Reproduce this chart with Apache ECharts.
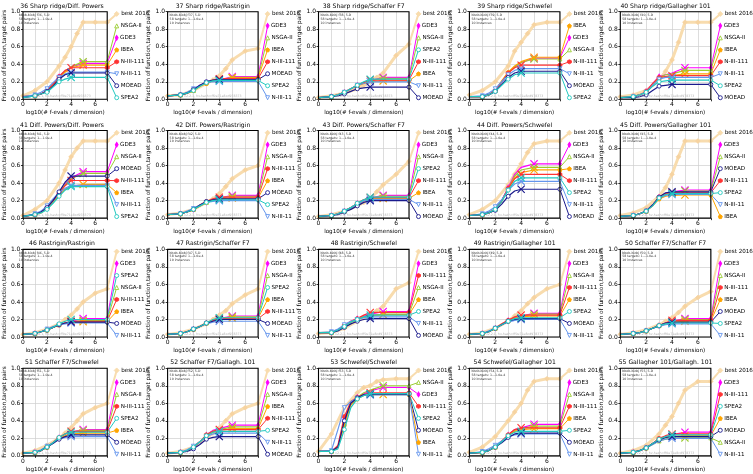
<!DOCTYPE html>
<html><head><meta charset="utf-8">
<script src="https://cdn.jsdelivr.net/npm/echarts@6/dist/echarts.min.js"></script>
<style>html,body{margin:0;padding:0;background:#fff}#c{width:753px;height:474px}</style>
</head><body><div id="c"></div>
<script>
// ---------- data ----------
const FUNC_IDS = [36,37,38,39,40,41,42,43,44,45,46,47,48,49,50,51,52,53,54,55];
const TITLES = [
 '36 Sharp ridge/Diff. Powers','37 Sharp ridge/Rastrigin','38 Sharp ridge/Schaffer F7','39 Sharp ridge/Schwefel','40 Sharp ridge/Gallagher 101',
 '41 Diff. Powers/Diff. Powers','42 Diff. Powers/Rastrigin','43 Diff. Powers/Schaffer F7','44 Diff. Powers/Schwefel','45 Diff. Powers/Gallagher 101',
 '46 Rastrigin/Rastrigin','47 Rastrigin/Schaffer F7','48 Rastrigin/Schwefel','49 Rastrigin/Gallagher 101','50 Schaffer F7/Schaffer F7',
 '51 Schaffer F7/Schwefel','52 Schaffer F7/Gallagh. 101','53 Schwefel/Schwefel','54 Schwefel/Gallagher 101','55 Gallagher 101/Gallagh. 101'];
const X_TICKS = [0, 2, 4, 6];
const Y_TICKS = [0, 0.2, 0.4, 0.6, 0.8, 1.0];
const X_ALG = [0, 1, 1.5, 2, 2.5, 3, 3.5, 4, 5];
const X_BEST = [0, 1, 2, 3, 3.5, 4, 4.5, 5, 6, 7];
const ALGS = ['GDE3', 'NSGA-II', 'IBEA', 'N-III-111', 'N-III-11', 'MOEAD', 'SPEA2'];
const BUDGET_LOG10 = [5, 5, 5, 4, 4, 4, 4];
const BEST_2016 = [
 [0.04,0.10,0.20,0.38,0.48,0.60,0.75,0.88,0.88,0.88],
 [0.04,0.05,0.10,0.18,0.22,0.27,0.35,0.45,0.55,0.58],
 [0.02,0.04,0.07,0.12,0.16,0.20,0.25,0.30,0.50,0.63],
 [0.05,0.10,0.20,0.38,0.55,0.65,0.75,0.85,0.88,0.88],
 [0.03,0.05,0.10,0.22,0.32,0.45,0.65,0.88,0.88,0.88],
 [0.03,0.10,0.20,0.40,0.55,0.70,0.80,0.88,0.88,0.88],
 [0.04,0.06,0.10,0.18,0.22,0.28,0.36,0.45,0.55,0.60],
 [0.02,0.04,0.08,0.14,0.18,0.22,0.30,0.38,0.50,0.65],
 [0.04,0.10,0.20,0.38,0.50,0.62,0.75,0.85,0.88,0.88],
 [0.03,0.06,0.12,0.25,0.35,0.50,0.70,0.88,0.88,0.88],
 [0.03,0.05,0.09,0.15,0.20,0.25,0.32,0.40,0.50,0.55],
 [0.03,0.05,0.09,0.15,0.20,0.25,0.30,0.38,0.48,0.55],
 [0.04,0.05,0.10,0.18,0.22,0.25,0.30,0.35,0.55,0.62],
 [0.03,0.05,0.10,0.18,0.24,0.30,0.38,0.45,0.55,0.60],
 [0.03,0.05,0.08,0.14,0.18,0.22,0.28,0.35,0.45,0.52],
 [0.03,0.06,0.12,0.20,0.26,0.32,0.40,0.48,0.55,0.60],
 [0.03,0.05,0.10,0.20,0.26,0.32,0.40,0.48,0.55,0.60],
 [0.05,0.25,0.55,0.72,0.78,0.80,0.85,0.87,0.88,0.88],
 [0.04,0.10,0.22,0.40,0.50,0.60,0.75,0.85,0.88,0.88],
 [0.03,0.06,0.12,0.25,0.35,0.45,0.60,0.75,0.85,0.85]];
// rows: GDE3, NSGA-II, IBEA, N-III-111, N-III-11, MOEAD, SPEA2 (values at X_ALG)
const F36 = [[.03,.04,.06,.10,.18,.26,.32,.37,.41],[.03,.04,.06,.10,.17,.25,.32,.37,.43],[.03,.04,.06,.09,.16,.24,.31,.36,.39],[.03,.04,.06,.10,.17,.26,.33,.36,.36],[.03,.05,.08,.12,.19,.25,.29,.31,.31],[.02,.04,.06,.09,.15,.23,.28,.30,.30],[.02,.04,.06,.08,.14,.20,.23,.25,.25]];
const F37 = [[.04,.05,.07,.11,.16,.19,.21,.22,.26],[.04,.05,.07,.10,.15,.19,.21,.22,.25],[.04,.05,.07,.10,.15,.18,.21,.22,.245],[.04,.05,.07,.11,.16,.19,.22,.235,.235],[.04,.05,.08,.12,.16,.19,.20,.205,.205],[.04,.05,.07,.11,.16,.20,.22,.225,.225],[.04,.05,.07,.10,.15,.19,.21,.215,.215]];
const F38 = [[.02,.03,.05,.08,.12,.16,.19,.21,.25],[.02,.03,.05,.08,.12,.16,.19,.21,.24],[.02,.03,.05,.08,.12,.15,.18,.20,.21],[.02,.03,.05,.08,.12,.16,.19,.22,.22],[.02,.03,.05,.08,.12,.16,.18,.20,.20],[.02,.03,.04,.06,.09,.12,.13,.14,.14],[.02,.03,.05,.08,.12,.16,.20,.23,.23]];
const F39 = [[.03,.03,.05,.10,.20,.30,.37,.42,.47],[.03,.03,.05,.10,.20,.30,.37,.42,.46],[.03,.03,.05,.10,.21,.31,.38,.43,.48],[.03,.03,.05,.10,.20,.30,.36,.39,.39],[.03,.04,.07,.12,.20,.28,.33,.35,.35],[.03,.03,.05,.09,.17,.25,.30,.32,.32],[.03,.03,.05,.09,.16,.23,.28,.30,.30]];
const F40 = [[.02,.03,.05,.09,.18,.26,.28,.30,.36],[.02,.03,.05,.08,.17,.25,.28,.29,.33],[.02,.03,.05,.08,.16,.24,.26,.27,.29],[.02,.03,.05,.09,.18,.25,.26,.27,.27],[.02,.03,.05,.08,.16,.23,.25,.25,.25],[.02,.02,.03,.05,.10,.15,.16,.17,.17],[.02,.03,.05,.08,.15,.20,.21,.22,.22]];
const F41 = [[.02,.04,.07,.12,.20,.29,.39,.46,.53],[.02,.04,.07,.12,.20,.29,.38,.45,.51],[.02,.04,.06,.11,.18,.26,.33,.36,.385],[.02,.04,.07,.12,.20,.28,.37,.43,.43],[.02,.05,.08,.14,.22,.29,.34,.375,.375],[.02,.04,.07,.12,.20,.30,.41,.48,.48],[.02,.04,.06,.10,.17,.25,.32,.36,.36]];
const F42 = [[.04,.05,.07,.10,.14,.18,.21,.23,.26],[.04,.05,.07,.10,.14,.18,.21,.23,.25],[.04,.05,.07,.10,.14,.18,.20,.22,.23],[.04,.05,.07,.10,.15,.19,.22,.24,.24],[.04,.05,.08,.11,.15,.18,.19,.20,.20],[.04,.05,.07,.10,.15,.19,.21,.22,.22],[.04,.05,.07,.10,.14,.18,.20,.21,.21]];
const F43 = [[.02,.03,.05,.08,.12,.17,.21,.23,.26],[.02,.03,.05,.08,.12,.17,.21,.23,.25],[.02,.03,.05,.08,.12,.16,.20,.22,.225],[.02,.03,.05,.08,.12,.17,.21,.235,.235],[.02,.03,.05,.08,.12,.16,.20,.215,.215],[.02,.03,.04,.07,.10,.14,.18,.20,.20],[.02,.03,.05,.08,.12,.17,.21,.24,.24]];
const F44 = [[.03,.04,.06,.10,.20,.35,.50,.58,.62],[.03,.04,.06,.10,.20,.34,.48,.55,.58],[.03,.04,.06,.10,.19,.33,.46,.52,.55],[.03,.04,.06,.10,.20,.34,.45,.50,.50],[.03,.05,.08,.13,.21,.32,.39,.42,.42],[.03,.04,.06,.09,.16,.25,.31,.33,.33],[.03,.04,.06,.10,.19,.32,.42,.46,.46]];
const F45 = [[.02,.03,.05,.08,.15,.24,.28,.30,.32],[.02,.03,.05,.08,.15,.24,.28,.29,.31],[.02,.03,.05,.08,.14,.22,.25,.26,.265],[.02,.03,.05,.08,.15,.24,.28,.29,.29],[.02,.03,.05,.08,.15,.23,.26,.27,.27],[.02,.03,.05,.08,.15,.24,.29,.30,.30],[.02,.03,.05,.08,.14,.23,.27,.28,.28]];
const F46 = [[.03,.04,.06,.08,.11,.14,.16,.18,.21],[.03,.04,.06,.08,.11,.14,.16,.17,.19],[.03,.04,.06,.08,.11,.14,.16,.17,.175],[.03,.04,.06,.08,.11,.14,.16,.18,.18],[.03,.04,.06,.09,.12,.14,.15,.16,.16],[.03,.04,.06,.08,.11,.14,.16,.17,.17],[.03,.04,.06,.08,.11,.15,.18,.20,.20]];
const F47 = [[.03,.04,.06,.09,.12,.16,.19,.21,.24],[.03,.04,.06,.09,.12,.16,.19,.21,.23],[.03,.04,.06,.09,.12,.16,.19,.21,.215],[.03,.04,.06,.09,.12,.16,.19,.21,.21],[.03,.04,.06,.09,.12,.15,.17,.18,.18],[.03,.04,.06,.09,.12,.16,.18,.20,.20],[.03,.04,.06,.09,.12,.16,.20,.22,.22]];
const F48 = [[.05,.05,.08,.13,.18,.21,.24,.26,.29],[.05,.05,.08,.12,.17,.20,.23,.25,.26],[.05,.05,.08,.12,.17,.20,.23,.24,.255],[.05,.05,.08,.13,.18,.21,.25,.28,.28],[.05,.06,.09,.14,.18,.20,.22,.23,.23],[.05,.05,.07,.11,.15,.18,.20,.21,.21],[.05,.05,.08,.12,.17,.20,.23,.25,.25]];
const F49 = [[.03,.04,.06,.10,.14,.19,.22,.24,.27],[.03,.04,.06,.10,.14,.19,.22,.24,.26],[.03,.04,.06,.10,.14,.18,.21,.23,.24],[.03,.04,.06,.10,.15,.19,.23,.25,.25],[.03,.04,.07,.10,.14,.17,.19,.20,.20],[.03,.04,.06,.10,.14,.18,.20,.21,.21],[.03,.04,.06,.10,.14,.18,.21,.22,.22]];
const F50 = [[.03,.04,.05,.07,.10,.13,.16,.18,.21],[.03,.04,.05,.07,.10,.13,.16,.18,.20],[.03,.04,.05,.07,.10,.13,.15,.17,.18],[.03,.04,.05,.07,.10,.13,.16,.19,.19],[.03,.04,.05,.07,.10,.12,.14,.15,.15],[.03,.04,.05,.07,.10,.13,.16,.17,.17],[.03,.04,.05,.07,.10,.13,.15,.16,.16]];
const F51 = [[.03,.04,.06,.10,.15,.21,.25,.27,.30],[.03,.04,.06,.10,.15,.21,.25,.27,.29],[.03,.04,.06,.10,.15,.20,.23,.25,.26],[.03,.04,.06,.10,.15,.21,.25,.28,.28],[.03,.04,.07,.11,.15,.19,.21,.22,.22],[.03,.04,.06,.10,.14,.19,.22,.24,.24],[.03,.04,.06,.10,.15,.21,.25,.27,.27]];
const F52 = [[.03,.04,.06,.10,.16,.24,.29,.31,.35],[.03,.04,.06,.10,.16,.24,.28,.30,.33],[.03,.04,.06,.10,.16,.23,.27,.29,.31],[.03,.04,.06,.10,.16,.24,.28,.30,.30],[.03,.04,.07,.11,.16,.22,.25,.26,.26],[.03,.04,.05,.08,.13,.19,.21,.22,.22],[.03,.04,.06,.10,.16,.23,.27,.28,.28]];
const F53 = [[.05,.05,.10,.42,.60,.67,.71,.74,.78],[.05,.05,.10,.40,.60,.67,.72,.75,.80],[.05,.05,.10,.35,.58,.65,.69,.70,.70],[.05,.05,.12,.45,.62,.67,.70,.72,.72],[.05,.06,.30,.55,.62,.66,.69,.695,.695],[.05,.05,.10,.40,.60,.66,.70,.705,.705],[.05,.05,.08,.30,.55,.65,.69,.71,.71]];
const F54 = [[.03,.04,.06,.10,.16,.24,.30,.32,.36],[.03,.04,.06,.10,.16,.24,.29,.31,.34],[.03,.04,.06,.10,.16,.23,.28,.30,.31],[.03,.04,.06,.10,.17,.24,.30,.32,.32],[.03,.05,.08,.12,.17,.22,.24,.25,.25],[.03,.04,.06,.10,.15,.21,.25,.26,.26],[.03,.04,.06,.10,.16,.23,.27,.28,.28]];
const F55 = [[.03,.04,.06,.09,.14,.19,.22,.24,.27],[.03,.04,.06,.09,.13,.17,.19,.20,.205],[.03,.04,.06,.09,.14,.19,.21,.22,.23],[.03,.04,.06,.09,.14,.20,.23,.25,.25],[.03,.04,.06,.09,.13,.17,.19,.20,.20],[.03,.04,.06,.09,.14,.18,.21,.22,.22],[.03,.04,.06,.09,.14,.19,.22,.24,.24]];
const PANELS = [F36,F37,F38,F39,F40,F41,F42,F43,F44,F45,F46,F47,F48,F49,F50,F51,F52,F53,F54,F55];

// ---------- styles ----------
const CROSS = 'path://M1,0L5,4L9,0L10,1L6,5L10,9L9,10L5,6L1,10L0,9L4,5L0,1Z';
const PENT = 'path://M5,0L10,3.8L8.1,10L1.9,10L0,3.8Z';
const TRI_DN = 'path://M0,0L10,0L5,9Z';
const HEX = 'path://M5,0L9.3,2.5L9.3,7.5L5,10L0.7,7.5L0.7,2.5Z';
const STY = {
 'GDE3':     {c:'#ff00ff', sym:'diamond', size:[3,5], fill:true},
 'NSGA-II':  {c:'#9acd32', sym:'triangle', size:4, fill:false},
 'IBEA':     {c:'#ffa500', sym:PENT, size:4, fill:true},
 'N-III-111':{c:'#ff3333', sym:HEX, size:4, fill:true},
 'N-III-11': {c:'#6495ed', sym:TRI_DN, size:4, fill:false},
 'MOEAD':    {c:'#1a1a8c', sym:'circle', size:4, fill:false},
 'SPEA2':    {c:'#20c8c0', sym:'circle', size:4, fill:false},
 'best 2016':{c:'#f8dcae', sym:'diamond', size:5, fill:true}
};
const COL_L0 = 16.7, COL_PITCH = 150.9, ROW_T0 = 11.7, ROW_PITCH = 118.85, PW = 90.5, PH = 87.6, CW = 9.5;
const XMAX = 7;
const MARKED_X = [1, 2, 3];

const grid = [], xAxis = [], yAxis = [], series = [], graphic = [];
const txt = {fontSize: 6, color: '#000', fontFamily: 'DejaVu Sans'};

function itemStyle(s) {
  return {color: s.fill ? s.c : '#ffffff', borderColor: s.c, borderWidth: 0.9};
}

PANELS.forEach((rows, p) => {
  const col = p % 5, row = Math.floor(p / 5);
  const L = COL_L0 + col * COL_PITCH, T = ROW_T0 + row * ROW_PITCH;
  const gi = grid.length;
  grid.push({left: L, top: T, width: PW, height: PH, show: true, borderColor: '#000', borderWidth: 1.1, backgroundColor: 'rgba(0,0,0,0)', z: 5});
  grid.push({left: L + PW, top: T, width: CW, height: PH});
  xAxis.push({gridIndex: gi, type: 'value', min: 0, max: XMAX, interval: 1,
    axisLine: {show: false},
    axisTick: {show: true, length: 2, lineStyle: {color: '#000', width: 0.8}},
    axisLabel: {...txt, margin: 2.5, formatter: v => X_TICKS.includes(v) ? String(v) : ''},
    splitLine: {show: true, lineStyle: {color: '#cfcfcf', width: 0.7}},
    name: 'log10(# f-evals / dimension)', nameLocation: 'middle', nameGap: 10.5,
    nameTextStyle: {...txt, fontSize: 5.6}});
  yAxis.push({gridIndex: gi, type: 'value', min: 0, max: 1, interval: 0.2,
    axisLine: {show: false},
    axisTick: {show: true, length: 2, lineStyle: {color: '#000', width: 0.8}},
    axisLabel: {...txt, margin: 2.5, formatter: v => Y_TICKS.some(t => Math.abs(t - v) < 1e-9) ? v.toFixed(1) : ''},
    splitLine: {show: true, lineStyle: {color: '#cfcfcf', width: 0.7}},
    name: 'Fraction of function,target pairs', nameLocation: 'middle', nameGap: 12.5,
    nameTextStyle: {...txt, fontSize: 5.8}});
  xAxis.push({gridIndex: gi + 1, type: 'value', min: 0, max: 1, show: false});
  yAxis.push({gridIndex: gi + 1, type: 'value', min: 0, max: 1, show: false});

  graphic.push({type: 'text', x: L + PW / 2, y: T - 5.5, z: 100, silent: true,
    style: {text: TITLES[p], fill: '#000', fontSize: 6.1, fontFamily: 'DejaVu Sans',
            textAlign: 'center', textVerticalAlign: 'middle', align: 'center', verticalAlign: 'middle'}});
  graphic.push({type: 'text', x: L + 2, y: T + 1.5, z: 100, silent: true,
    style: {text: 'bbob-biobj f' + FUNC_IDS[p] + ', 5-D\n58 targets: 1..-1.0e-4\n10 instances', fill: '#333',
            fontSize: 3.2, lineHeight: 3.8, fontFamily: 'DejaVu Sans'}});
  graphic.push({type: 'text', x: L + PW / 2, y: T + PH - 3, z: 100, silent: true,
    style: {text: 'v2.2.1, hv-hash=ff0e71e8cd978373', fill: '#b0b0b0', fontSize: 3.2, fontFamily: 'DejaVu Sans',
            textAlign: 'center', textVerticalAlign: 'middle', align: 'center', verticalAlign: 'middle'}});

  // best 2016
  const sb = STY['best 2016'];
  const best = BEST_2016[p];
  series.push({type: 'line', xAxisIndex: gi, yAxisIndex: gi, z: 2, silent: true, clip: false,
    data: X_BEST.map((x, i) => [x, best[i]]),
    lineStyle: {color: sb.c, width: 3}, symbol: sb.sym, symbolSize: sb.size,
    itemStyle: {color: '#f6d3a0', borderColor: '#f6d3a0', borderWidth: 0.5}});

  // algorithms
  const finals = [];
  rows.forEach((vals, a) => {
    const name = ALGS[a], s = STY[name];
    const data = X_ALG.map((x, i) => {
      if (x === BUDGET_LOG10[a]) return {value: [x, vals[i]], symbol: CROSS, symbolSize: 8, itemStyle: {color: s.c, borderWidth: 0}};
      if (x > BUDGET_LOG10[a] || !MARKED_X.includes(x)) return {value: [x, vals[i]], symbol: 'none'};
      return [x, vals[i]];
    });
    data.push([XMAX, vals[vals.length - 1]]);
    finals.push({name, v: vals[vals.length - 1]});
    series.push({type: 'line', xAxisIndex: gi, yAxisIndex: gi, z: 3 + a * 0.1, silent: true, clip: false,
      data, lineStyle: {color: s.c, width: 1.2}, symbol: s.sym, symbolSize: s.size, itemStyle: itemStyle(s)});
  });

  // connectors & labels (legend at right, sorted by final value)
  const order = [{name: 'best 2016', v: best[best.length - 1]}].concat(finals.slice().sort((a, b) => b.v - a.v));
  order.forEach((o, k) => {
    const s = STY[o.name];
    const ly = 0.975 - k * (0.957 / 7);
    series.push({type: 'line', xAxisIndex: gi + 1, yAxisIndex: gi + 1, z: 3, silent: true, clip: false,
      lineStyle: {color: s.c, width: o.name === 'best 2016' ? 2 : 1},
      symbol: s.sym, symbolSize: s.size, itemStyle: itemStyle(s),
      data: [{value: [0, o.v], symbol: 'none'},
             {value: [1, ly], label: {show: true, position: 'right', distance: 1.5, formatter: o.name, ...txt, fontSize: 5.6}}]});
  });
});

const chart = echarts.init(document.getElementById('c'), null, {renderer: 'canvas'});
chart.setOption({animation: false, backgroundColor: '#fff', grid, xAxis, yAxis, series, graphic});
</script></body></html>
